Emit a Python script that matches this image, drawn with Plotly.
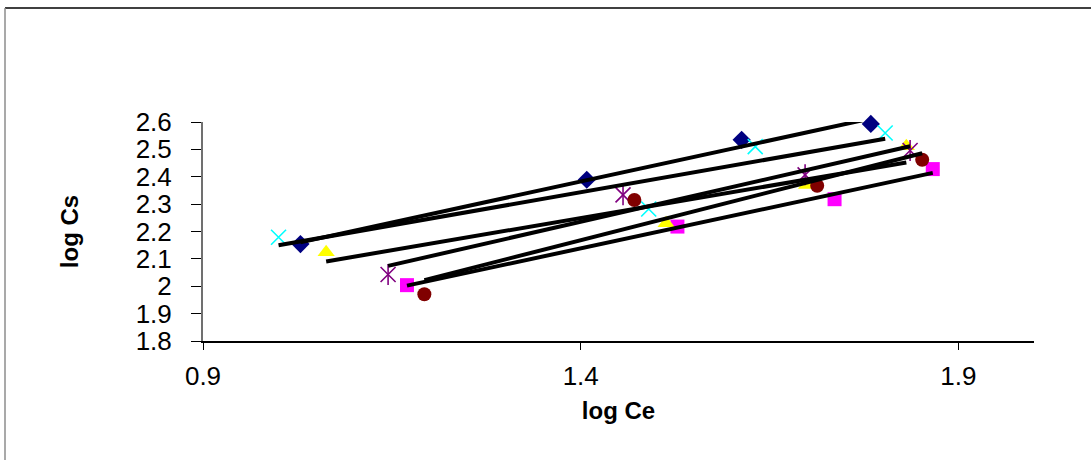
import numpy as np
import plotly.graph_objects as go

# Freundlich isotherm data: log Ce (x) and log Cs (y) for six runs
ce_diamond = [1.029, 1.408, 1.613, 1.784]
cs_diamond = [2.154, 2.389, 2.535, 2.593]

ce_square = [1.170, 1.528, 1.736, 1.866]
cs_square = [2.004, 2.218, 2.318, 2.428]

ce_triangle = [1.063, 1.513, 1.699, 1.831]
cs_triangle = [2.124, 2.230, 2.370, 2.511]

ce_cross = [1.000, 1.490, 1.631, 1.803]
cs_cross = [2.179, 2.282, 2.510, 2.560]

ce_star = [1.145, 1.456, 1.697, 1.836]
cs_star = [2.043, 2.334, 2.407, 2.496]

ce_circle = [1.193, 1.471, 1.713, 1.852]
cs_circle = [1.971, 2.315, 2.367, 2.462]

x_ticks = [0.9, 1.4, 1.9]
y_ticks = [1.8, 1.9, 2.0, 2.1, 2.2, 2.3, 2.4, 2.5, 2.6]
y_tick_text = ["1.8", "1.9", "2", "2.1", "2.2", "2.3", "2.4", "2.5", "2.6"]

series = [
    ("Series 1", ce_diamond, cs_diamond, ["diamond"], "#000080", 14, 0),
    ("Series 2", ce_square, cs_square, ["square"], "#FF00FF", 14, 0),
    ("Series 3", ce_triangle, cs_triangle, ["triangle-up"], "#FFFF00", 15, 0),
    ("Series 4", ce_cross, cs_cross, ["x-thin-open"], "#00FFFF", 15, 1.6),
    ("Series 5", ce_star, cs_star, ["x-thin-open", "line-ns-open"], "#800080", 15, 1.6),
    ("Series 6", ce_circle, cs_circle, ["circle"], "#800000", 14, 0),
]

fig = go.Figure()

# markers first
for name, xs, ys, symbols, color, size, lw in series:
    for sym in symbols:
        fig.add_trace(go.Scatter(
            x=xs, y=ys, mode="markers", name=name, showlegend=False,
            marker=dict(symbol=sym, size=size, color=color,
                        line=dict(color=color, width=lw)),
            cliponaxis=False,
        ))

# linear trendlines drawn over the markers
for name, xs, ys, symbols, color, size, lw in series:
    xa = np.array(xs)
    slope, intercept = np.polyfit(xa, np.array(ys), 1)
    xl = np.array([xa.min(), xa.max()])
    fig.add_trace(go.Scatter(
        x=xl, y=slope * xl + intercept, mode="lines", showlegend=False,
        line=dict(color="black", width=4),
    ))

W, H = 1091, 460
L, R, T, B = 203, 57, 122, 119
pw, ph = W - L - R, H - T - B


def px(xp):
    return (xp - L) / pw


def py(yp):
    return (H - B - yp) / ph


# outer chart frame (top and left edges)
fig.add_shape(type="line", xref="paper", yref="paper",
              x0=px(5), x1=px(1091), y0=py(8), y1=py(8),
              line=dict(color="black", width=1.5))
fig.add_shape(type="line", xref="paper", yref="paper",
              x0=px(5), x1=px(5), y0=py(8), y1=py(462),
              line=dict(color="#8c8c8c", width=1.5))

font_family = "Liberation Sans, Arial, sans-serif"

fig.update_layout(
    width=W, height=H,
    margin=dict(l=L, r=R, t=T, b=B, pad=0),
    paper_bgcolor="white", plot_bgcolor="white",
    font=dict(family=font_family, color="black"),
    xaxis=dict(
        range=[0.9, 2.0], tickvals=x_ticks, ticktext=[f"{v:.1f}" for v in x_ticks],
        showgrid=False, zeroline=False, showline=True, linecolor="black", linewidth=1.5,
        ticks="outside", ticklen=7, tickwidth=1.2, tickcolor="black",
        tickfont=dict(size=26, family=font_family), ticklabelstandoff=4,
        title=dict(text="<b>log Ce</b>", font=dict(size=24, family=font_family), standoff=12),
    ),
    yaxis=dict(
        range=[1.8, 2.6], tickvals=y_ticks, ticktext=y_tick_text,
        showgrid=False, zeroline=False, showline=True, linecolor="#707070", linewidth=2,
        ticks="outside", ticklen=10, tickwidth=1.2, tickcolor="black",
        tickfont=dict(size=26, family=font_family), ticklabelstandoff=14,
        title=dict(text="<b>log Cs</b>", font=dict(size=24, family=font_family), standoff=50),
    ),
)

fig.write_html("out.html")
